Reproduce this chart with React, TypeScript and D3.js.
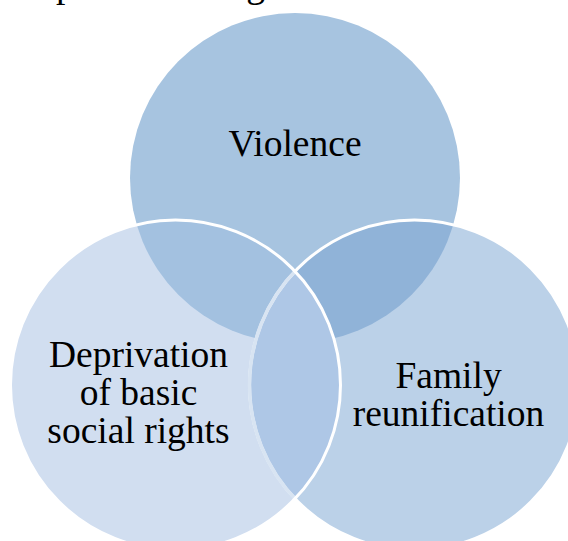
import React, { useEffect, useRef } from 'react';
import * as d3 from 'd3';

// Venn sets, drawn in this order (top first, left last)
const setNames = ['violence', 'family', 'deprivation'];
const setAngles = [-90, 30, 150]; // degrees around the centroid
const setLabels = [['Violence'], ['Family', 'reunification'], ['Deprivation', 'of basic', 'social rights']];
const labelShift = [
  [0, -35],
  [34, 9],
  [-37, 7],
];
// region colours: single sets, pairs, all three
const soloColors = ['#A7C4E0', '#BBD1E8', '#D1DEF0'];
const pairColors = { violenceFamily: '#90B3D8', violenceDeprivation: '#A3C1E0', familyDeprivation: '#AEC7E6' };
const centerColor = '#9BBADD';
// bits of the cut-off line above the figure
const cutText = [
  { t: 'p', x: 0.115 },
  { t: 'g', x: 0.45 },
];

const W = 568;
const H = 541;
const FONT = 'Liberation Serif';

const App: React.FC = () => {
  const svgRef = useRef<SVGSVGElement | null>(null);

  useEffect(() => {
    if (!svgRef.current) return;
    const svg = d3.select(svgRef.current);
    svg.selectAll('*').remove();

    const cx = 295;
    const cy = 316;
    const spread = 138;
    const r = 165;
    const rad = d3.scaleLinear().domain([0, 180]).range([0, Math.PI]);
    const centers = setAngles.map((a) => ({
      x: cx + spread * Math.cos(rad(a)),
      y: cy + spread * Math.sin(rad(a)),
    }));

    const defs = svg.append('defs');
    setNames.forEach((n, i) => {
      defs
        .append('clipPath')
        .attr('id', `clip-${n}`)
        .append('circle')
        .attr('cx', centers[i].x)
        .attr('cy', centers[i].y)
        .attr('r', r);
    });

    const circle = (g: d3.Selection<SVGGElement, unknown, null, undefined>, i: number, fill: string) =>
      g.append('circle').attr('cx', centers[i].x).attr('cy', centers[i].y).attr('r', r).attr('fill', fill);

    const root = svg.append('g');
    // plain circles
    setNames.forEach((_, i) => circle(root, i, soloColors[i]));

    // pair overlaps
    const inTop = root.append('g').attr('clip-path', 'url(#clip-violence)');
    circle(inTop, 1, pairColors.violenceFamily);
    circle(inTop, 2, pairColors.violenceDeprivation);
    const inLeft = root.append('g').attr('clip-path', 'url(#clip-deprivation)');
    circle(inLeft, 1, pairColors.familyDeprivation);
    // triple overlap
    const inBoth = inTop.append('g').attr('clip-path', 'url(#clip-deprivation)');
    circle(inBoth, 1, centerColor);

    // outlines: family's edge shows through deprivation, deprivation's edge is on top
    circle(root, 1, 'none').attr('stroke', '#fff').attr('stroke-width', 3);
    const edgeUnder = root.append('g').attr('clip-path', 'url(#clip-deprivation)');
    circle(edgeUnder, 1, 'none').attr('stroke', '#D8E4F2').attr('stroke-width', 3.5);
    circle(root, 2, 'none').attr('stroke', '#fff').attr('stroke-width', 3);

    // labels
    const fs = 37.5;
    const lh = 38;
    setLabels.forEach((lines, i) => {
      const x = centers[i].x + labelShift[i][0];
      const y = centers[i].y + labelShift[i][1];
      const top = y - ((lines.length - 1) * lh) / 2;
      const t = svg
        .append('text')
        .attr('text-anchor', 'middle')
        .attr('font-family', FONT)
        .attr('font-size', fs)
        .attr('fill', '#000');
      lines.forEach((l, k) => {
        t.append('tspan')
          .attr('x', x)
          .attr('y', top + k * lh)
          .attr('dy', '0.35em')
          .text(l);
      });
    });

    svg
      .selectAll('text.cut')
      .data(cutText)
      .join('text')
      .attr('class', 'cut')
      .attr('x', (d) => d.x * W)
      .attr('y', -3)
      .attr('text-anchor', 'middle')
      .attr('font-family', FONT)
      .attr('font-size', fs)
      .text((d) => d.t);
  }, []);

  return (
    <svg
      ref={svgRef}
      width={W}
      height={H}
      style={{ position: 'absolute', left: 0, top: 0, background: '#fff' }}
    />
  );
};

export default App;
